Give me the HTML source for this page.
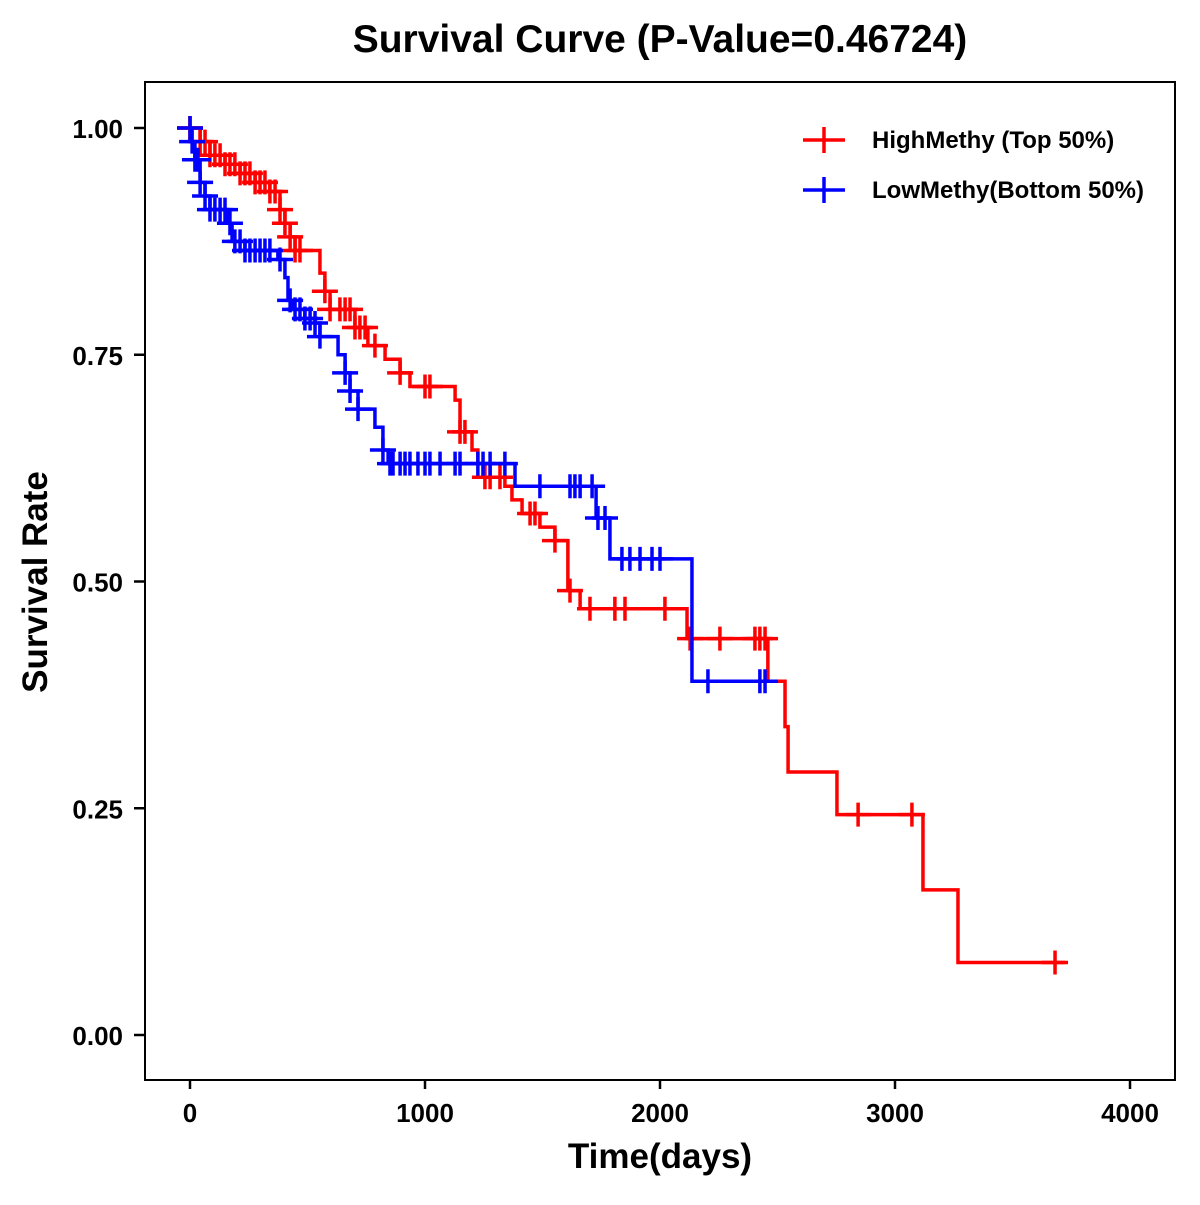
<!DOCTYPE html>
<html><head><meta charset="utf-8"><style>
body{margin:0;background:#fff}
svg text{font-family:"Liberation Sans",Arial,sans-serif;font-weight:bold;fill:#000}
</style></head><body>
<svg id="chart" width="1200" height="1200">
<text x="660" y="52" text-anchor="middle" font-size="39">Survival Curve (P-Value=0.46724)</text>
<rect x="145" y="82" width="1030" height="998" fill="none" stroke="#000" stroke-width="2"/>
<g id="axes"></g>
<g id="series"></g>
<text x="660" y="1168" text-anchor="middle" font-size="35">Time(days)</text>
<text transform="translate(47,582) rotate(-90)" text-anchor="middle" font-size="35">Survival Rate</text>
<g>
<g>
<line x1="803" y1="140" x2="845" y2="140" stroke="#f00" stroke-width="3.5"/><line x1="824" y1="127" x2="824" y2="153" stroke="#f00" stroke-width="3.5"/>
<text x="872" y="148" font-size="24">HighMethy (Top 50%)</text></g>
<g>
<line x1="803" y1="190" x2="845" y2="190" stroke="#00f" stroke-width="3.5"/><line x1="824" y1="177" x2="824" y2="203" stroke="#00f" stroke-width="3.5"/>
<text x="872" y="198" font-size="24">LowMethy(Bottom 50%)</text></g>
</g>
</svg>
<script>
const xTicks=[0,1000,2000,3000,4000];
const yTicks=[0,0.25,0.5,0.75,1.0];
const yTickLabels=["0.00","0.25","0.50","0.75","1.00"];
const highTimes=[0,43,85,149,213,277,340,383,404,426,447,553,574,596,702,757,830,894,936,1128,1149,1200,1225,1247,1340,1370,1413,1489,1553,1608,1660,2115,2459,2532,2545,2753,3119,3268];
const highSurv=[1,0.985,0.97,0.96,0.95,0.94,0.93,0.91,0.895,0.88,0.865,0.84,0.82,0.80,0.78,0.76,0.745,0.73,0.715,0.70,0.665,0.645,0.63,0.615,0.605,0.59,0.575,0.56,0.545,0.49,0.47,0.437,0.39,0.34,0.29,0.243,0.16,0.08];
const highEnd=3723;
const highCensor=[0,0,43,64,85,106,128,149,170,191,213,234,255,277,298,319,340,362,383,404,426,447,468,574,596,638,660,681,702,723,745,787,894,1000,1021,1149,1170,1255,1277,1319,1447,1468,1553,1617,1702,1808,1851,2021,2128,2255,2404,2425,2447,2843,3072,3681];
const lowTimes=[0,2,21,43,64,85,162,179,234,374,404,417,438,489,532,553,630,660,681,715,787,821,843,1383,1728,1787,2136];
const lowSurv=[1,0.985,0.965,0.94,0.925,0.91,0.895,0.875,0.865,0.855,0.835,0.81,0.80,0.79,0.785,0.77,0.75,0.73,0.71,0.69,0.67,0.645,0.63,0.605,0.57,0.525,0.39];
const lowEnd=2468;
const lowCensor=[0,9,21,34,43,64,85,106,128,149,170,191,213,234,255,277,298,319,340,383,426,447,468,489,511,532,553,660,681,715,821,851,864,894,915,936,970,1000,1021,1064,1128,1149,1225,1247,1277,1340,1489,1617,1638,1660,1711,1736,1766,1838,1872,1915,1966,2000,2204,2425,2447];
const X=t=>190+t*0.235, Y=s=>1035-s*907;
const NS="http://www.w3.org/2000/svg";
const axes=document.getElementById('axes'), series=document.getElementById('series');
function mk(tag,attrs,parent){const e=document.createElementNS(NS,tag);for(const k in attrs)e.setAttribute(k,attrs[k]);parent.appendChild(e);return e;}
xTicks.forEach(v=>{
 const l=mk('line',{x1:X(v),x2:X(v),y1:1080,y2:1089,stroke:'#000','stroke-width':2.5},axes);
 
 
 const t=mk('text',{x:X(v),y:1122,'text-anchor':'middle','font-size':26},axes);t.textContent=v;
 
 
});
yTicks.forEach((v,i)=>{
 const l=mk('line',{x1:134,x2:145,y1:Y(v),y2:Y(v),stroke:'#000','stroke-width':2.5},axes);
 
 
 const t=mk('text',{x:123,y:Y(v)+10,'text-anchor':'end','font-size':26},axes);t.textContent=yTickLabels[i];
 
 
});
function survAt(times,surv,t){let s=surv[0];for(let i=0;i<times.length;i++){if(times[i]<=t)s=surv[i];}return s;}
function draw(times,surv,end,cens,color,name){
 let d=`M${X(times[0])},${Y(surv[0])}`;
 for(let i=1;i<times.length;i++){d+=` H${X(times[i])} V${Y(surv[i])}`;}
 d+=` H${X(end)}`;
 const p=mk('path',{d:d,fill:'none',stroke:color,'stroke-width':3.5},series);
 
 
 cens.forEach(t=>{
  const x=X(t),y=Y(survAt(times,surv,t));
  const c=mk('path',{d:`M${x-13},${y} H${x+13} M${x},${y-12} V${y+12}`,stroke:color,'stroke-width':3.5,fill:'none'},series);
  
  
 });
}
draw(highTimes,highSurv,highEnd,highCensor,'#f00','high-methy');
draw(lowTimes,lowSurv,lowEnd,lowCensor,'#00f','low-methy');
</script>
</body></html>
